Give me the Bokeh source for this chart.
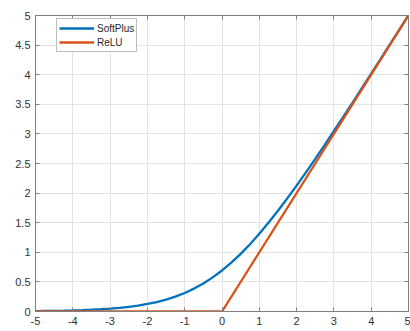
from bokeh.plotting import figure
from bokeh.models import Range1d, FixedTicker, LinearAxis, Legend, LegendItem, CustomJSTickFormatter
from bokeh.embed import file_html
from bokeh.resources import INLINE

# Data
softplus_x = [-5, -4.75, -4.5, -4.25, -4, -3.75, -3.5, -3.25, -3, -2.75, -2.5, -2.25, -2, -1.75,
              -1.5, -1.25, -1, -0.75, -0.5, -0.25, 0, 0.25, 0.5, 0.75, 1, 1.25, 1.5, 1.75, 2,
              2.25, 2.5, 2.75, 3, 3.25, 3.5, 3.75, 4, 4.25, 4.5, 4.75, 5]
softplus_y = [0.007, 0.009, 0.011, 0.014, 0.018, 0.023, 0.030, 0.038, 0.049, 0.062, 0.079, 0.100,
              0.127, 0.160, 0.201, 0.252, 0.313, 0.387, 0.474, 0.576, 0.693, 0.826, 0.974, 1.137,
              1.313, 1.502, 1.701, 1.910, 2.127, 2.350, 2.579, 2.812, 3.049, 3.288, 3.530, 3.773,
              4.018, 4.264, 4.511, 4.759, 5.007]
relu_x = [-5, 0, 5]
relu_y = [0, 0, 5]
x_ticks = [-5, -4, -3, -2, -1, 0, 1, 2, 3, 4, 5]
y_ticks = [0, 0.5, 1, 1.5, 2, 2.5, 3, 3.5, 4, 4.5, 5]

p = figure(width=410, height=331, output_backend="svg", toolbar_location=None,
           x_range=Range1d(-5, 5), y_range=Range1d(0, 5),
           min_border_left=35, min_border_right=2, min_border_top=15, min_border_bottom=20)
p.background_fill_color = "white"
p.outline_line_color = "#808080"
p.outline_line_width = 1

fmt = CustomJSTickFormatter(code="return String(Math.round(tick*10)/10)")

for ax, ticks in ((p.xaxis[0], x_ticks), (p.yaxis[0], y_ticks)):
    ax.ticker = FixedTicker(ticks=ticks)
    ax.formatter = fmt
    ax.axis_line_color = "#808080"
    ax.major_tick_line_color = "#808080"
    ax.major_tick_in = 4
    ax.major_tick_out = 0
    ax.minor_tick_line_color = None
    ax.major_label_text_font = "Liberation Sans"
    ax.major_label_text_font_size = "11px"
    ax.major_label_text_color = "#333333"
    ax.major_label_standoff = 5

blank = CustomJSTickFormatter(code="return ''")
top = LinearAxis(ticker=FixedTicker(ticks=x_ticks), formatter=blank,
                 major_label_standoff=0, axis_line_color="#808080", major_tick_line_color="#808080",
                 major_tick_in=4, major_tick_out=0, minor_tick_line_color=None)
right = LinearAxis(ticker=FixedTicker(ticks=y_ticks), formatter=blank,
                   major_label_standoff=0, axis_line_color="#808080", major_tick_line_color="#808080",
                   major_tick_in=4, major_tick_out=0, minor_tick_line_color=None)
p.add_layout(top, "above")
p.add_layout(right, "right")

p.xgrid.ticker = FixedTicker(ticks=x_ticks)
p.ygrid.ticker = FixedTicker(ticks=y_ticks)
p.grid.grid_line_color = "#e3e3e3"
p.grid.grid_line_width = 1

r1 = p.line(softplus_x, softplus_y, line_color="#0072BD", line_width=2.3)
r2 = p.line(relu_x, relu_y, line_color="#D95319", line_width=2.3)

legend = Legend(items=[LegendItem(label="SoftPlus", renderers=[r1]),
                       LegendItem(label="ReLU", renderers=[r2])],
                location=(21, 259), orientation="vertical",
                label_text_font="Liberation Sans", label_text_font_size="10px",
                label_text_color="#262626", glyph_width=35, glyph_height=14,
                label_height=14, label_standoff=3, padding=2, spacing=0, margin=0,
                border_line_color="#808080", border_line_width=1,
                background_fill_color="white", background_fill_alpha=1)
p.add_layout(legend, "center")

open("out.html", "w").write(file_html(p, INLINE))
